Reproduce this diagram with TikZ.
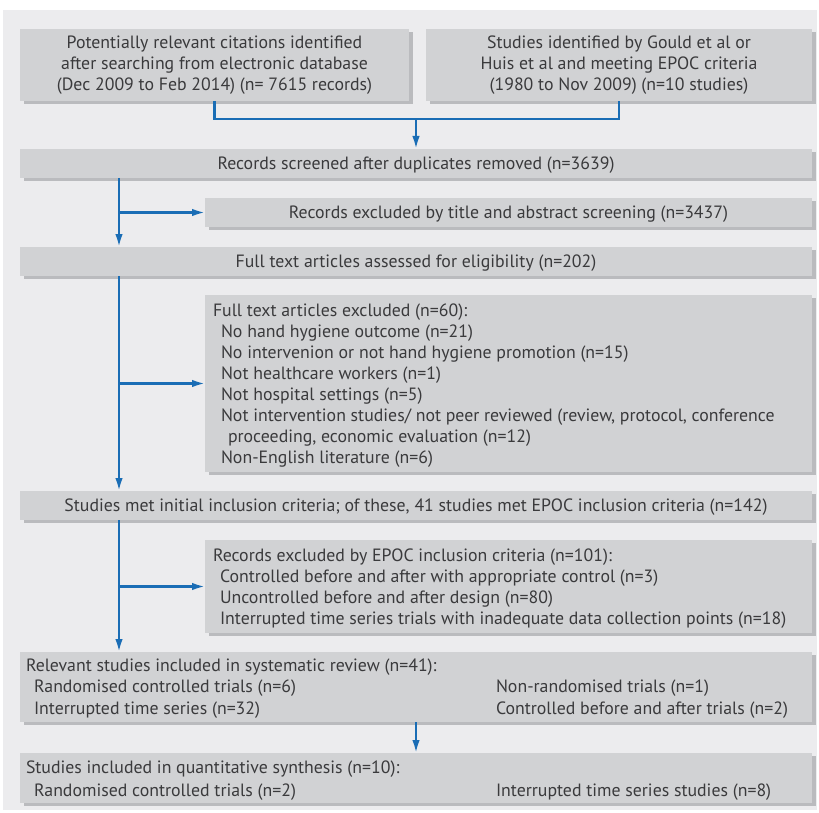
\documentclass[tikz,border=0pt]{standalone}
\usepackage{fontspec}
\setmainfont{PT Sans}
\usetikzlibrary{shadows,arrows.meta,calc}
\definecolor{bgc}{HTML}{ECECEE}
\definecolor{boxc}{HTML}{D1D2D4}
\definecolor{shc}{HTML}{BABBBE}
\definecolor{bluec}{HTML}{1A6DB5}
\definecolor{txtc}{HTML}{3A3A3C}
\begin{document}
\begin{tikzpicture}[x=1pt,y=-1pt,
  bx/.style={fill=boxc, inner sep=0pt, outer sep=0pt, text=txtc,
    font=\fontsize{17.8}{21}\selectfont,
    general shadow={fill=shc, shadow xshift=4pt, shadow yshift=-3pt}},
  one/.style={text height=12.5pt, text depth=0pt},
  txt/.style={inner sep=0pt, outer sep=0pt, text=txtc, align=left,
    font=\fontsize{17.8}{21}\selectfont, anchor=north west},
  link/.style={draw=bluec, line width=2.2pt},
  arr/.style={link, -{Latex[length=13pt,width=7.5pt]}}]
\useasboundingbox (0,0) rectangle (819,813);
\fill[bgc] (3,10) rectangle (817,810);

\node[bx, minimum width=389pt, minimum height=72pt, align=center] (src1) at (214.5,65)
  {Potentially relevant citations identified\\after searching from electronic database\\(Dec 2009 to Feb 2014) (n= 7615 records)};
\node[bx, minimum width=386pt, minimum height=72pt, align=center] (src2) at (619,65)
  {Studies identified by Gould et al or\\Huis et al and meeting EPOC criteria\\(1980 to Nov 2009) (n=10 studies)};
\node[bx, one, minimum width=792pt, minimum height=29pt] (screened) at (416,163.5)
  {Records screened after duplicates removed (n=3639)};
\node[bx, one, minimum width=607pt, minimum height=29pt] (excl1) at (508.5,212.5)
  {Records excluded by title and abstract screening (n=3437)};
\node[bx, one, minimum width=792pt, minimum height=29pt] (fulltext) at (416,261.5)
  {Full text articles assessed for eligibility (n=202)};
\node[bx, minimum width=607pt, minimum height=177pt] (excl2) at (508.5,383.5) {};
\node[bx, one, minimum width=792pt, minimum height=29pt] (met) at (416,505.5)
  {Studies met initial inclusion criteria; of these, 41 studies met EPOC inclusion criteria (n=142)};
\node[bx, minimum width=607pt, minimum height=93pt] (excl3) at (508.5,586.5) {};
\node[bx, minimum width=792pt, minimum height=70pt] (rel) at (416,687) {};
\node[bx, minimum width=792pt, minimum height=50pt] (quant) at (416,778) {};

\node[txt] (excl2t) at (213,303.5) {Full text articles excluded (n=60):\\
\hspace*{8pt}No hand hygiene outcome (n=21)\\
\hspace*{8pt}No intervenion or not hand hygiene promotion (n=15)\\
\hspace*{8pt}Not healthcare workers (n=1)\\
\hspace*{8pt}Not hospital settings (n=5)\\
\hspace*{8pt}Not intervention studies/ not peer reviewed (review, protocol, conference\\
\hspace*{15pt}proceeding, economic evaluation (n=12)\\
\hspace*{8pt}Non-English literature (n=6)};
\node[txt] (excl3t) at (213,549) {Records excluded by EPOC inclusion criteria (n=101):\\
\hspace*{7pt}Controlled before and after with appropriate control (n=3)\\
\hspace*{7pt}Uncontrolled before and after design (n=80)\\
\hspace*{7pt}Interrupted time series trials with inadequate data collection points (n=18)};
\node[txt, font=\fontsize{17.8}{21.5}\selectfont] (relt) at (26,658.5) {Relevant studies included in systematic review (n=41):\\
\hspace*{8pt}Randomised controlled trials (n=6)\\
\hspace*{8pt}Interrupted time series (n=32)};
\node[txt, font=\fontsize{17.8}{21.5}\selectfont] (relr) at (496,680) {Non-randomised trials (n=1)\\
Controlled before and after trials (n=2)};
\node[txt, font=\fontsize{17.8}{23}\selectfont] (quantt) at (26,760.5) {Studies included in quantitative synthesis (n=10):\\
\hspace*{8pt}Randomised controlled trials (n=2)};
\node[txt] (quantr) at (496,783.5) {Interrupted time series studies (n=8)};

\coordinate (join) at (416,119);
\coordinate (spine) at (119,0);
\draw[link] (src1.south) |- (join) -| (src2.south);
\draw[arr] (join) -- (screened.north);
\draw[arr] (screened.south -| spine) -- (fulltext.north -| spine);
\draw[arr] (spine |- excl1.west) -- (excl1.west);
\draw[arr] (fulltext.south -| spine) -- (met.north -| spine);
\draw[arr] (spine |- excl2.west) -- (excl2.west);
\draw[arr] (met.south -| spine) -- (rel.north -| spine);
\draw[arr] (spine |- excl3.west) -- (excl3.west);
\draw[arr] (rel.south) -- (quant.north);
\end{tikzpicture}
\end{document}
